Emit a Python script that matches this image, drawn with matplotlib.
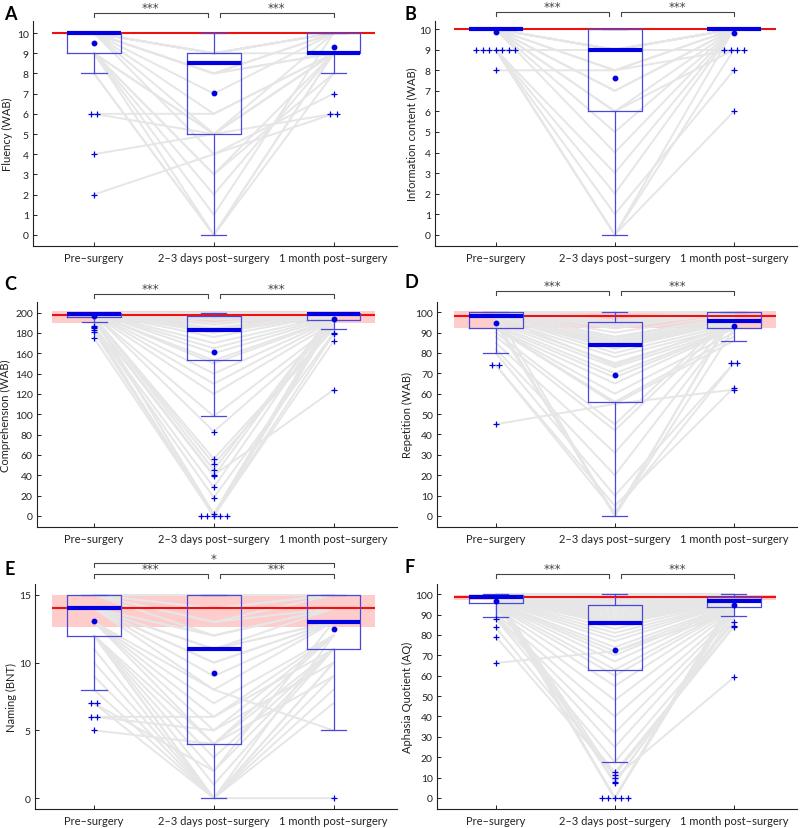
import numpy as np
import matplotlib
matplotlib.use("Agg")
import matplotlib.pyplot as plt

plt.rcParams['font.family'] = ['Lato', 'DejaVu Sans']

categories = ['Pre–surgery', '2–3 days post–surgery', '1 month post–surgery']

# ---------------- Panel A: Fluency ----------------
A_pre  = [10,10,10,10,10,10,10,10,10,10,10,10,10,10,9,9,9,9,9,9,8,8,10,10,10,9,6,6,4,2]
A_mid  = [10,10,9,9,9,9,9,8,8,8,8,7,6,5,5,5,3,2,1,0,0,0,10,9,4,3,6,5,5,4]
A_post = [10,10,10,10,10,9,10,10,9,10,9,10,9,9,10,9,9,9,10,9,8,9,10,10,7,8,9,9,6,6]
A_q1 = [9, 5, 9]
A_med = [10, 8.5, 9]
A_q3 = [10, 9, 10]
A_lo = [8, 0, 8]
A_hi = [10, 10, 10]
A_mean = [9.5, 7.03, 9.33]
A_out = [[6, 6, 4, 2], [], [7, 6, 6]]
A_norm = 10
A_band = [10, 10]

# ---------------- Panel B: Information content ----------------
B_pre  = [10,10,10,10,10,10,10,10,10,10,10,10,10,10,10,10,10,10,10,10,10,10,9,9,9,9,9,9,9,8]
B_mid  = [10,10,10,10,10,10,10,10,9,9,9,9,9,9,8,8,7,7,6,6,5,4,3,2,1,0,0,0,9,8]
B_post = [10,10,10,10,10,10,10,10,10,10,10,10,10,10,10,9,10,10,10,9,10,10,10,10,8,10,9,6,9,10]
B_q1 = [10, 6, 10]
B_med = [10, 9, 10]
B_q3 = [10, 10, 10]
B_lo = [10, 0, 10]
B_hi = [10, 10, 10]
B_mean = [9.85, 7.65, 9.83]
B_out = [[9, 9, 9, 9, 9, 9, 9, 8], [], [9, 9, 9, 9, 8, 6]]
B_norm = 10
B_band = [10, 10]

# ---------------- Panel C: Comprehension ----------------
C_pre  = [200,200,200,200,200,200,200,200,200,200,200,200,200,200,200,200,200,200,200,200,
          199,199,199,199,198,198,198,196,196,196,193,191,187,186,185,184,181,175,197,195]
C_mid  = [200,199,198,197,197,196,195,193,190,188,185,184,183,183,182,180,176,170,165,160,
          153,150,140,130,120,98,83,56,51,45,40,39,28,18,0,0,0,0,0,2]
C_post = [200,200,200,200,200,200,200,200,200,200,199,199,199,199,198,198,198,197,196,195,
          194,193,193,192,190,188,186,185,184,200,124,200,199,180,179,172,193,198,196,200]
C_q1 = [196, 153, 193]
C_med = [199, 183, 199]
C_q3 = [200, 197, 200]
C_lo = [191, 98, 184]
C_hi = [200, 200, 200]
C_mean = [197, 161, 193.5]
C_out = [[187, 186, 185, 183, 181, 175],
         [83, 56, 51, 45, 40, 39, 28, 18, 0, 0, 0, 0, 0, 1.5],
         [180, 179, 172, 124]]
C_norm = 197.6
C_band = [190, 201.5]

# ---------------- Panel D: Repetition ----------------
D_pre  = [100,100,100,100,100,100,100,100,100,100,99,98,98,98,98,98,98,98,98,97,
          96,95,94,93,92,92,92,92,90,88,85,82,80,74,74,45,100,98,96,94]
D_mid  = [100,98,96,95,95,94,93,92,90,88,87,86,85,85,84,84,83,82,80,78,
          75,73,70,68,65,60,56,55,45,42,31,20,10,5,2,55,0,74,0,1]
D_post = [100,100,100,100,100,100,100,100,99,98,98,97,96,96,96,95,95,95,94,93,
          93,92,92,92,92,90,88,86,100,98,97,96,75,63,75,62,100,94,92,99]
D_q1 = [92, 56, 92]
D_med = [98, 84, 95.5]
D_q3 = [100, 95, 100]
D_lo = [80, 0, 86]
D_hi = [100, 100, 100]
D_mean = [94.8, 69.3, 93.2]
D_out = [[74, 74, 45], [], [75, 75, 63, 62]]
D_norm = 98
D_band = [92.3, 100.5]

# ---------------- Panel E: Naming ----------------
E_pre  = [15,15,15,15,15,15,15,15,15,15,14,14,14,14,14,14,14,14,13,13,
          13,13,12,12,12,12,12,11,10,9,8,7,7,6,6,5,15,14,13,12]
E_mid  = [15,15,15,15,15,14,14,13,13,12,12,11,11,11,10,10,9,8,7,6,
          5,4,4,3,2,1,0,0,0,0,0,0,2,6,5,4,15,12,8,0]
E_post = [15,15,15,15,15,15,15,15,14,14,14,14,13,13,13,13,13,13,12,12,
          12,12,11,11,11,11,10,10,9,8,7,12,13,11,10,9,15,14,5,0]
E_q1 = [12, 4, 11]
E_med = [14, 11, 13]
E_q3 = [15, 15, 15]
E_lo = [8, 0, 5]
E_hi = [15, 15, 15]
E_mean = [13.1, 9.2, 12.5]
E_out = [[7, 7, 6, 6, 5], [], [0]]
E_norm = 14
E_band = [12.6, 15]

# ---------------- Panel F: Aphasia Quotient ----------------
F_pre  = [100,99.9,99.8,99.6,99.5,99.3,99.1,99,98.9,98.8,98.7,98.6,98.5,98.4,98.2,98,97.8,97.5,97.2,97,
          96.5,96,95.8,95.5,95.2,94.8,94,93,92,90.5,89.5,88.8,88,83.7,79.2,66.3,99.7,98.3,96.2,99.4,
          99.2,98.1,97.6,99.0]
F_mid  = [100,99,97,96,95,94.8,94,93,92,91,90,89,88,87,86,85.8,85,83,81,79,
          77,74,72,70,67,63,60,55,48,40,32,25,17.6,12.6,11.5,72,10,7.8,7.2,0,
          0,0,0,0]
F_post = [100,100,99.8,99.5,99,98.8,98.6,98.4,98.2,98,97.8,97.5,97.2,97,96.9,96.8,96.6,96.4,96,95.8,
          95.5,95,94.5,94,93.7,93.5,93,92.5,92,91,90.5,89.5,86.2,84.5,84,91,59.2,88,90,95,
          97.5,96,98,99]
F_q1 = [95.5, 62.9, 93.7]
F_med = [98.5, 85.8, 96.8]
F_q3 = [99.8, 94.8, 98.4]
F_lo = [88.8, 17.6, 89.5]
F_hi = [100, 100, 100]
F_mean = [96.8, 72.8, 94.8]
F_out = [[88, 83.7, 79.2, 66.3], [12.6, 11.5, 10, 7.8, 7.2, 0, 0, 0, 0, 0], [86.2, 84.5, 84, 59.2]]
F_norm = 98.4
F_band = [97.2, 99.6]

letters = ['A', 'B', 'C', 'D', 'E', 'F']
ylabels = ['Fluency (WAB)', 'Information content (WAB)', 'Comprehension (WAB)',
           'Repetition (WAB)', 'Naming (BNT)', 'Aphasia Quotient (AQ)']
ylims = [(-0.55, 10.6), (-0.55, 10.4), (-11, 210.5), (-5.4, 105), (-0.8, 15.8), (-5.4, 105)]
yticks = [list(range(0, 11)), list(range(0, 11)), list(range(0, 201, 20)),
          list(range(0, 101, 10)), [0, 5, 10, 15], list(range(0, 101, 10))]
sig_pairs = [[('***', 1, 2), ('***', 2, 3)]] * 4 + [[('***', 1, 2), ('***', 2, 3), ('*', 1, 3)]] + [[('***', 1, 2), ('***', 2, 3)]]

panels = [
    (A_pre, A_mid, A_post, A_q1, A_med, A_q3, A_lo, A_hi, A_mean, A_out, A_norm, A_band),
    (B_pre, B_mid, B_post, B_q1, B_med, B_q3, B_lo, B_hi, B_mean, B_out, B_norm, B_band),
    (C_pre, C_mid, C_post, C_q1, C_med, C_q3, C_lo, C_hi, C_mean, C_out, C_norm, C_band),
    (D_pre, D_mid, D_post, D_q1, D_med, D_q3, D_lo, D_hi, D_mean, D_out, D_norm, D_band),
    (E_pre, E_mid, E_post, E_q1, E_med, E_q3, E_lo, E_hi, E_mean, E_out, E_norm, E_band),
    (F_pre, F_mid, F_post, F_q1, F_med, F_q3, F_lo, F_hi, F_mean, F_out, F_norm, F_band),
]

BOX = '#4848dc'
MED = '#0000e0'
GRAY = '#e6e6e6'
BRK = '#444444'

fig = plt.figure(figsize=(8, 8.29), dpi=100)
W, H = 800, 829
col_base = [33, 435]
ax_left = [33, 435, 37, 437, 35, 437]
ax_right = [397, 797, 397, 797, 397, 797]
row_top = [22, 303, 585]
row_h = [225, 225, 225]
bracket_y = [1.036, 1.04, 1.036, 1.049, 1.044, 1.044]
letter_pos = [(4, 20), (404, 20), (4, 290), (404, 288), (4, 575), (404, 573)]
label_x = [13, 417, 11, 413, 17, 413]   # right edge of the rotated y label, in pixels

pos = np.arange(1, len(categories) + 1)

for k, (pre, mid, post, q1, med, q3, lo, hi, mean, outs, norm, band) in enumerate(panels):
    r, c = divmod(k, 2)
    l = ax_left[k] / W
    wpx = ax_right[k] - ax_left[k]
    b = 1 - (row_top[r] + row_h[r]) / H
    ax = fig.add_axes([l, b, wpx / W, row_h[r] / H])

    # normative band and line
    if band[1] > band[0]:
        ax.fill_between([0.65, 3.35], band[0], band[1], color='#ffcccc', lw=0, zorder=0.5)
    # subject trajectories
    for a, m, p in zip(pre, mid, post):
        ax.plot(pos, [a, m, p], color=GRAY, lw=1.4, zorder=1, solid_capstyle='round')
    ax.hlines(norm, 0.65, 3.35, color='#ee1111', lw=1.5, zorder=2)

    stats = [dict(med=med[i], q1=q1[i], q3=q3[i], whislo=lo[i], whishi=hi[i],
                  mean=mean[i], fliers=[]) for i in range(3)]
    ax.bxp(stats, positions=pos, widths=0.45, showmeans=True, showfliers=False,
           capwidths=0.21,
           boxprops=dict(color=BOX, lw=0.9, zorder=4),
           whiskerprops=dict(color=BOX, lw=0.9, linestyle='-', zorder=4),
           capprops=dict(color=BOX, lw=0.9, zorder=4),
           medianprops=dict(color=MED, lw=3, solid_capstyle='butt', zorder=5),
           meanprops=dict(marker='o', markerfacecolor=MED, markeredgecolor=MED,
                          markersize=3.2, zorder=6))

    # outliers, duplicates spread horizontally
    for i, vals in enumerate(outs):
        if not vals:
            continue
        vals = np.array(vals, dtype=float)
        xs = np.full(len(vals), float(pos[i]))
        for u in np.unique(vals):
            idx = np.where(vals == u)[0]
            n = len(idx)
            xs[idx] = pos[i] + (np.arange(n) - (n - 1) / 2) * 0.055
        ax.plot(xs, vals, linestyle='none', marker='+', color=MED, ms=5, mew=0.9, zorder=6)

    ax.set_xlim(0.49 + (ax_left[k] - col_base[c]) / 120, 3.53)
    ax.set_ylim(*ylims[k])
    ax.set_yticks(yticks[k])
    ax.set_xticks(pos)
    ax.set_xticklabels(categories)
    ax.tick_params(axis='x', direction='in', length=3, labelsize=8, colors='#222222', width=0.7, pad=4)
    ax.tick_params(axis='y', direction='in', length=3, labelsize=7.5, colors='#222222', width=0.7, pad=3)
    ax.set_ylabel(ylabels[k], fontsize=8, color='#222222')
    ax.yaxis.set_label_coords((label_x[k] - ax_left[k]) / wpx, 0.5)
    for s in ['top', 'right']:
        ax.spines[s].set_visible(False)
    for s in ['left', 'bottom']:
        ax.spines[s].set_linewidth(0.8)
        ax.spines[s].set_color('#222222')

    # significance brackets
    tr = ax.get_xaxis_transform()
    yb = bracket_y[k]
    for lab, x0, x1 in sig_pairs[k]:
        if x1 - x0 == 1:
            xa = x0 + (0.0 if x0 == 1 else 0.05)
            xb = x1 - (0.05 if x1 == 2 else 0.0)
            y = yb
        else:
            xa, xb = x0, x1
            y = yb + 0.048
        ax.plot([xa, xa, xb, xb], [y - 0.018, y, y, y - 0.018], color=BRK, lw=0.8,
                transform=tr, clip_on=False)
        ax.text((xa + xb) / 2, y - 0.006, lab, transform=tr, ha='center', va='bottom',
                fontsize=8.5, color=BRK, family='DejaVu Sans')

    lx, ly = letter_pos[k]
    fig.text(lx / W, 1 - ly / H, letters[k], fontsize=13, fontweight='bold',
             ha='left', va='baseline', color='black')

fig.savefig('out.png', dpi=100)
